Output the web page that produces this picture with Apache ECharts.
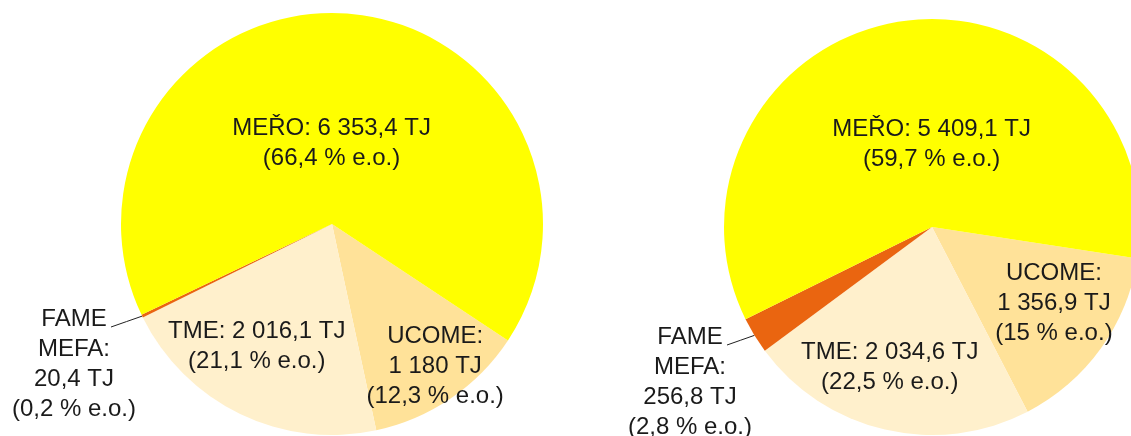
<!DOCTYPE html>
<html>
<head>
<meta charset="utf-8">
<script src="https://cdn.jsdelivr.net/npm/echarts@6/dist/echarts.min.js"></script>
<style>
    html, body { margin: 0; background: #fff; }
    #chart { width: 1131px; height: 436px; }
</style>
</head>
<body>
<div id="chart"></div>
<script>
'use strict';

// slices listed clockwise, starting at the UCOME / MEŘO edge
const categories = ['UCOME', 'TME', 'FAME MEFA', 'MEŘO'];
const valuesLeft = [1180, 2016.1, 20.4, 6353.4];
const valuesRight = [1356.9, 2034.6, 256.8, 5409.1];
const sharesLeft = ['12,3', '21,1', '0,2', '66,4'];
const sharesRight = ['15', '22,5', '2,8', '59,7'];

const colors = ['#FFE299', '#FFF0CC', '#EA6510', '#FFFF00'];
const stacked = ['UCOME', 'FAME MEFA'];   // names written on their own line
const fontFamily = '"Liberation Sans", Arial, sans-serif';

function fmt(v) {
    const parts = v.toFixed(1).replace(/\.0$/, '').split('.');
    parts[0] = parts[0].replace(/\B(?=(\d{3})+(?!\d))/g, ' ');
    return parts.join(',');
}

function labelText(shares) {
    return p => {
        const v = fmt(p.value) + ' TJ';
        const s = '(' + shares[p.dataIndex] + ' % e.o.)';
        if (stacked.includes(p.name)) {
            return p.name.split(' ').join('\n') + ':\n' + v + '\n' + s;
        }
        return p.name + ': ' + v + '\n' + s;
    };
}

// move the inner labels off the half radius, put the small slice's label aside
function placeLabels(nudges, aside) {
    return params => {
        if (params.dataIndex === 2) {
            const [x, y] = aside;
            const out = { x, y, align: 'center', verticalAlign: 'middle' };
            if (params.labelLinePoints) {
                const a = params.labelLinePoints[0];
                const end = [x + 37, y - 37];
                out.labelLinePoints = [a, [(a[0] + end[0]) / 2, (a[1] + end[1]) / 2], end];
            }
            return out;
        }
        const [dx, dy] = nudges[params.dataIndex];
        return { dx, dy };
    };
}

function pieSeries(values, shares, center, radius, startAngle, nudges, aside) {
    return {
        type: 'pie',
        center,
        radius,
        startAngle,
        clockwise: true,
        silent: true,
        avoidLabelOverlap: false,
        itemStyle: { borderWidth: 0 },
        label: {
            position: 'inside',
            formatter: labelText(shares),
            color: '#1a1a1a',
            fontSize: 24,
            lineHeight: 30,
            fontFamily
        },
        labelLine: {
            show: true,
            smooth: false,
            lineStyle: { color: '#222', width: 1 }
        },
        labelLayout: placeLabels(nudges, aside),
        data: categories.map((name, i) => ({
            name,
            value: values[i],
            itemStyle: { color: colors[i] },
            label: i === 2 ? { position: 'outside' } : undefined
        }))
    };
}

const chart = echarts.init(document.getElementById('chart'));
chart.setOption({
    animation: false,
    backgroundColor: '#fff',
    series: [
        pieSeries(valuesLeft, sharesLeft, [332, 224], 211, -33.5,
            [[42, 53], [-28, 25], null, [-8, 28]], [74, 364]),
        pieSeries(valuesRight, sharesRight, [932, 227], 208, -8.7,
            [[35, 14], [-18, 36], null, [16, 23]], [690, 382])
    ]
});
window.addEventListener('resize', () => chart.resize());
</script>
</body>
</html>
